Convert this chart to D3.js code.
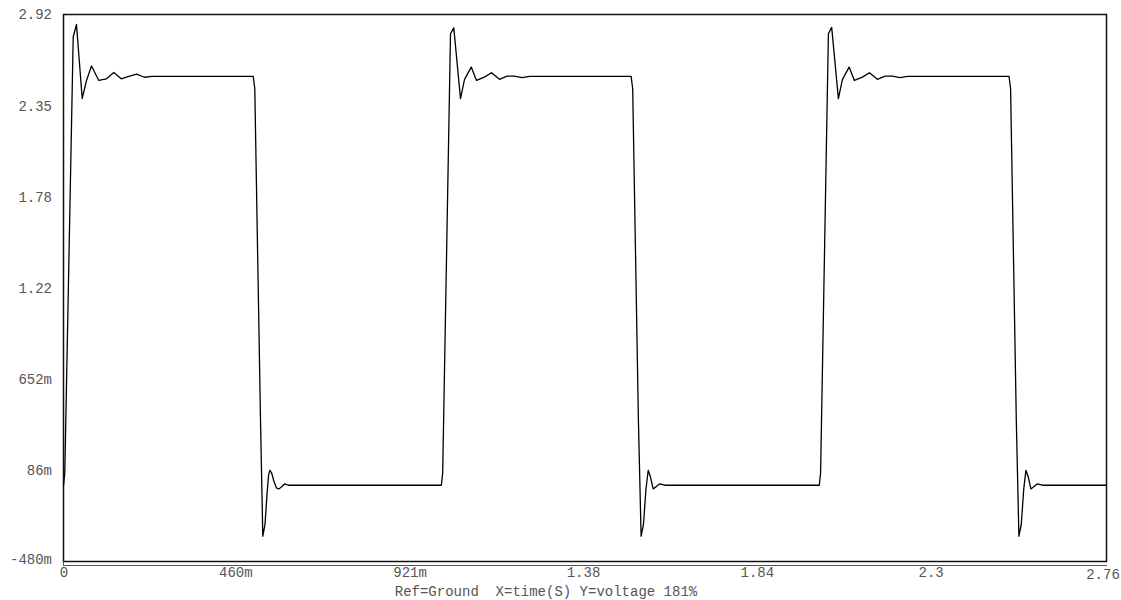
<!DOCTYPE html>
<html>
<head>
<meta charset="utf-8">
<script src="https://cdn.jsdelivr.net/npm/d3@7"></script>
<style>
  html, body { margin: 0; padding: 0; background: #fff; }
  svg { display: block; }
  text { font-family: "Liberation Mono", "DejaVu Sans Mono", monospace; font-size: 14px; fill: #555; }
</style>
</head>
<body>
<svg id="chart" width="1121" height="600"></svg>
<script>
// Transient voltage: time in seconds, voltage in volts
const timeS = [
  0.0000, 0.0034, 0.0257, 0.0344, 0.0495, 0.0609, 0.0741, 0.0934, 0.1138, 0.1331,
  0.1527, 0.1728, 0.1932, 0.2143, 0.2347, 0.5020, 0.5062, 0.5213, 0.5274, 0.5332,
  0.5385, 0.5425, 0.5459, 0.5504, 0.5570, 0.5636, 0.5697, 0.5768, 0.5856, 0.5946,
  1.0000, 1.0034, 1.0241, 1.0328, 1.0505, 1.0611, 1.0789, 1.0929, 1.1140, 1.1326,
  1.1537, 1.1741, 1.1934, 1.2138, 1.2339, 1.5020, 1.5062, 1.5213, 1.5285, 1.5347,
  1.5413, 1.5473, 1.5532, 1.5605, 1.5779, 1.5911,
  2.0000, 2.0034, 2.0241, 2.0328, 2.0505, 2.0611, 2.0789, 2.0929, 2.1140, 2.1326,
  2.1537, 2.1741, 2.1934, 2.2138, 2.2339, 2.5020, 2.5062, 2.5213, 2.5282, 2.5345,
  2.5410, 2.5468, 2.5530, 2.5600, 2.5770, 2.5905, 2.7600
];
const voltage = [
  -0.010, 0.070, 2.780, 2.858, 2.397, 2.510, 2.600, 2.510, 2.520, 2.560,
  2.520, 2.535, 2.550, 2.530, 2.535, 2.535, 2.460, 0.400, -0.323, -0.250,
  -0.064, 0.054, 0.087, 0.073, 0.017, -0.023, -0.029, -0.017, 0.003, -0.006,
  -0.006, 0.070, 2.800, 2.837, 2.397, 2.515, 2.593, 2.510, 2.531, 2.558,
  2.517, 2.537, 2.537, 2.527, 2.535, 2.535, 2.460, 0.400, -0.323, -0.250,
  -0.030, 0.087, 0.045, -0.029, 0.003, -0.006,
  -0.006, 0.070, 2.800, 2.840, 2.397, 2.515, 2.593, 2.510, 2.531, 2.558,
  2.517, 2.537, 2.537, 2.527, 2.535, 2.535, 2.460, 0.400, -0.323, -0.250,
  -0.030, 0.087, 0.045, -0.029, 0.003, -0.006, -0.006
];

const xTickValues = [0, 0.46, 0.921, 1.38, 1.84, 2.3, 2.76];
const xTickLabels = ["0", "460m", "921m", "1.38", "1.84", "2.3", "2.76"];
const yTickValues = [-0.48, 0.0867, 0.6533, 1.22, 1.7867, 2.3533, 2.92];
const yTickLabels = ["-480m", "86m", "652m", "1.22", "1.78", "2.35", "2.92"];
const caption = "Ref=Ground  X=time(S) Y=voltage 181%";

const plot = { left: 63.5, right: 1106.5, top: 14.5, bottom: 561.5 };
const svg = d3.select("#chart");

const x = d3.scaleLinear().domain([0, 2.76]).range([plot.left, plot.right]);
const y = d3.scaleLinear().domain([-0.48, 2.92]).range([plot.bottom, plot.top]);

// Plot frame with the doubled baseline
svg.append("rect")
  .attr("x", plot.left).attr("y", plot.top)
  .attr("width", plot.right - plot.left).attr("height", plot.bottom - plot.top)
  .attr("fill", "none").attr("stroke", "#111").attr("stroke-width", 1.5);
svg.append("line")
  .attr("x1", plot.left).attr("x2", plot.right + 0.5)
  .attr("y1", plot.bottom + 4).attr("y2", plot.bottom + 4)
  .attr("stroke", "#555").attr("stroke-width", 1);
svg.append("line")
  .attr("x1", plot.left).attr("x2", plot.left)
  .attr("y1", plot.bottom).attr("y2", plot.bottom + 4.5)
  .attr("stroke", "#555").attr("stroke-width", 1);

// Waveform
const pts = timeS.map((t, i) => [t, voltage[i]]);
svg.append("path")
  .datum(pts)
  .attr("fill", "none")
  .attr("stroke", "#000")
  .attr("stroke-width", 1.3)
  .attr("stroke-linejoin", "round")
  .attr("d", d3.line().x(d => x(d[0])).y(d => y(d[1])));

// Y axis labels (right-aligned left of the frame)
const yAxis = d3.axisLeft(y).tickValues(yTickValues)
  .tickFormat((d, i) => yTickLabels[i]).tickSize(0).tickPadding(0);
const gy = svg.append("g").attr("transform", "translate(52,0)").call(yAxis);
gy.select(".domain").remove();
gy.selectAll("text")
  .attr("dy", (d, i) => i === 0 ? "0.12em" : "0.32em")
  .style("font-size", "14px").style("font-family", null).attr("fill", "#555");

// X axis labels below the frame
const xAxis = d3.axisBottom(x).tickValues(xTickValues)
  .tickFormat((d, i) => xTickLabels[i]).tickSize(0).tickPadding(0);
const gx = svg.append("g").attr("transform", "translate(0,566)").call(xAxis);
gx.select(".domain").remove();
gx.selectAll("text")
  .attr("dx", (d, i) => i === 0 ? 0 : (i === xTickValues.length - 1 ? -4 : -2))
  .attr("dy", (d, i) => i === xTickValues.length - 1 ? "0.95em" : "0.75em")
  .style("font-size", "14px").style("font-family", null).attr("fill", "#555");

// Caption
svg.append("text")
  .attr("x", 546).attr("y", 596)
  .attr("text-anchor", "middle")
  .attr("xml:space", "preserve")
  .style("white-space", "pre")
  .text(caption);
</script>
</body>
</html>
